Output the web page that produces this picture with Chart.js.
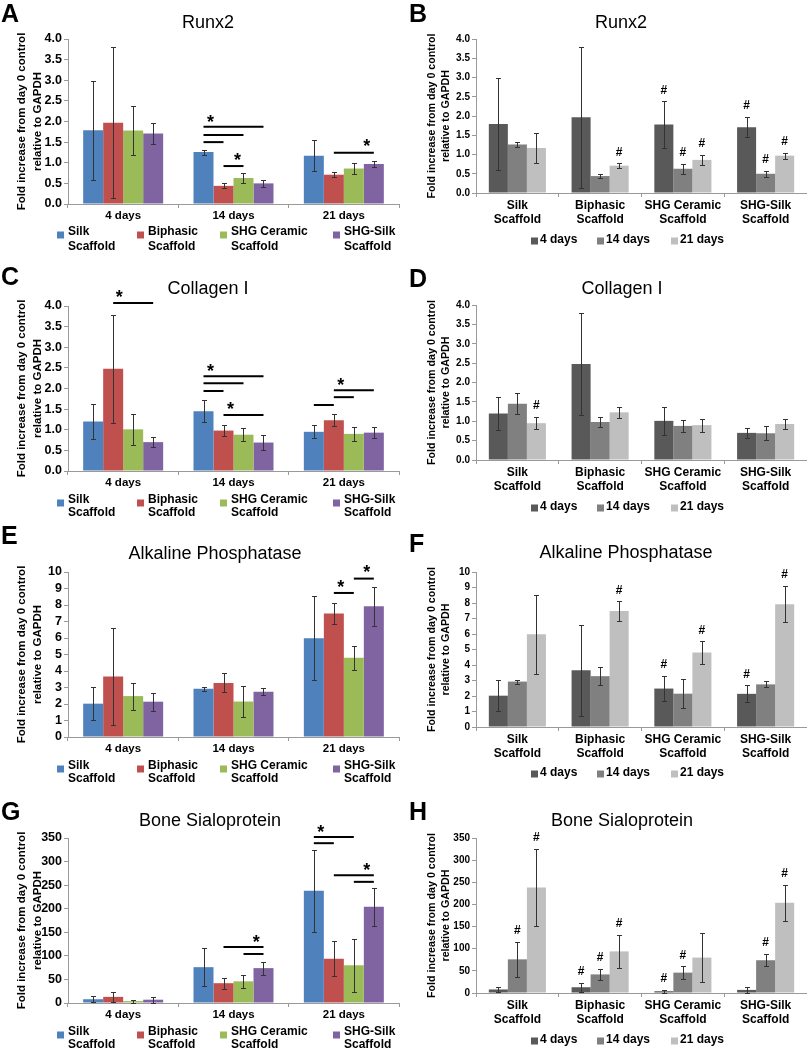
<!DOCTYPE html>
<html>
<head>
<meta charset="utf-8">
<script src="https://cdn.jsdelivr.net/npm/chart.js@4.4.0/dist/chart.umd.min.js"></script>
<style>
  body { margin: 0; background: #fff; width: 807px; height: 1050px; position: relative; overflow: hidden; }
  canvas { position: absolute; }
</style>
</head>
<body>
<canvas id="A" width="404" height="260" style="left:0;top:0"></canvas>
<canvas id="B" width="403" height="260" style="left:404px;top:0"></canvas>
<canvas id="C" width="404" height="260" style="left:0;top:260px"></canvas>
<canvas id="D" width="403" height="260" style="left:404px;top:260px"></canvas>
<canvas id="E" width="404" height="265" style="left:0;top:520px"></canvas>
<canvas id="F" width="403" height="265" style="left:404px;top:520px"></canvas>
<canvas id="G" width="404" height="265" style="left:0;top:785px"></canvas>
<canvas id="H" width="403" height="265" style="left:404px;top:785px"></canvas>
<script>
const days = ['4 days', '14 days', '21 days'];
const scaffolds = [['Silk', 'Scaffold'], ['Biphasic', 'Scaffold'], ['SHG Ceramic', 'Scaffold'], ['SHG-Silk', 'Scaffold']];
const yTitle = ['Fold increase from day 0 control', 'relative to GAPDH'];

// rows: scaffold, columns: 4 / 14 / 21 days
const runx2Mean = [[1.79, 1.26, 1.17], [1.97, 0.44, 0.71], [1.78, 0.63, 0.86], [1.71, 0.50, 0.97]];
const runx2Err = [[1.20, 0.06, 0.38], [1.83, 0.06, 0.06], [0.60, 0.13, 0.14], [0.26, 0.08, 0.08]];
const col1Mean = [[1.20, 1.45, 0.95], [2.48, 0.98, 1.23], [1.01, 0.88, 0.90], [0.70, 0.69, 0.93]];
const col1Err = [[0.43, 0.27, 0.16], [1.31, 0.14, 0.15], [0.37, 0.16, 0.17], [0.12, 0.18, 0.13]];
const alpMean = [[2.02, 2.93, 5.98], [3.66, 3.28, 7.48], [2.48, 2.15, 4.80], [2.14, 2.75, 7.92]];
const alpErr = [[1.00, 0.13, 2.55], [2.95, 0.58, 0.62], [0.82, 0.92, 0.72], [0.54, 0.19, 1.17]];
const bspMean = [[8, 76, 238], [13, 42, 94], [4, 46, 80], [7, 74, 204]];
const bspErr = [[6, 40, 87], [10, 12, 37], [3, 14, 56], [6, 14, 41]];

// significance bars: [day, fromScaffold, toScaffold, value]; stars: [day, scaffold position, value]
const runx2Sig = [[1, 0, 3, 1.87], [1, 0, 2, 1.67], [1, 0, 1, 1.50], [1, 1, 2, 0.92], [2, 1, 3, 1.24]];
const runx2Stars = [[1, 0.35, 2.08], [1, 1.7, 1.14], [2, 2.65, 1.48]];
const col1Sig = [[0, 1, 3, 4.07], [1, 0, 3, 2.30], [1, 0, 2, 2.13], [1, 0, 1, 1.94], [1, 1, 3, 1.36], [2, 0, 1, 1.60], [2, 1, 2, 1.79], [2, 1, 3, 1.96]];
const col1Stars = [[0, 1.3, 4.3], [1, 0.35, 2.52], [1, 1.35, 1.58], [2, 1.35, 2.18]];
const alpSig = [[2, 1, 2, 8.73], [2, 2, 3, 9.6]];
const alpStars = [[2, 1.35, 9.3], [2, 2.65, 10.2]];
const bspSig = [[1, 1, 3, 119], [1, 2, 3, 104], [2, 0, 2, 352], [2, 0, 1, 339], [2, 1, 3, 271], [2, 2, 3, 257]];
const bspStars = [[1, 2.64, 137], [2, 0.35, 371], [2, 2.65, 289]];

// '#' marks: [scaffold, day]
const runx2Hash = [[1, 2], [2, 0], [2, 1], [2, 2], [3, 0], [3, 1], [3, 2]];
const col1Hash = [[0, 2]];
const alpHash = [[1, 2], [2, 0], [2, 2], [3, 0], [3, 2]];
const bspHash = [[0, 1], [0, 2], [1, 0], [1, 1], [1, 2], [2, 0], [2, 1], [3, 1], [3, 2]];

const scaffoldColors = ['#4f81bd', '#c0504d', '#9bbb59', '#8064a2'];
const dayColors = ['#595959', '#808080', '#bfbfbf'];
const FONT = '"Liberation Sans", Arial, sans-serif';
const axisColor = '#9a9a9a';

const decor = {
  id: 'decor',
  afterDraw(chart) {
    const o = chart.options.plugins.decor;
    const ctx = chart.ctx;
    ctx.save();
    ctx.fillStyle = '#000';
    ctx.textAlign = 'left';
    ctx.textBaseline = 'alphabetic';
    ctx.font = 'bold 25px ' + FONT;
    ctx.fillText(o.letter, o.letterX, o.letterY);
    ctx.font = '18px ' + FONT;
    ctx.textAlign = 'center';
    ctx.textBaseline = 'middle';
    ctx.fillText(o.title, o.titleX, o.titleY);
    ctx.font = 'bold 12px ' + FONT;
    ctx.textAlign = 'left';
    chart.data.datasets.forEach((ds, k) => {
      const x = o.legendX[k];
      const lines = [].concat(ds.label);
      ctx.fillStyle = ds.backgroundColor;
      ctx.fillRect(x, o.legendY[0] + o.boxDy - 3.5, 7, 7);
      ctx.fillStyle = '#000';
      lines.forEach((t, i) => ctx.fillText(t, x + o.textDx, o.legendY[i]));
    });
    ctx.restore();
  }
};

const marks = {
  id: 'marks',
  afterDatasetsDraw(chart) {
    const o = chart.options.plugins.marks;
    const ctx = chart.ctx;
    const y = chart.scales.y;
    const n = chart.data.datasets.length;
    const barX = (k, d) => chart.getDatasetMeta(k).data[d].x;
    const posX = (p, d) => {
      const k = Math.min(Math.floor(p), n - 2);
      return barX(k, d) + (p - k) * (barX(k + 1, d) - barX(k, d));
    };
    ctx.save();
    ctx.strokeStyle = '#333';
    ctx.lineWidth = 1;
    chart.data.datasets.forEach((ds, k) => {
      chart.getDatasetMeta(k).data.forEach((bar, d) => {
        const hi = Math.round(y.getPixelForValue(ds.data[d] + ds.errors[d])) + 0.5;
        const lo = Math.round(y.getPixelForValue(Math.max(ds.data[d] - ds.errors[d], 0))) + 0.5;
        const x = Math.round(bar.x) + 0.5;
        ctx.beginPath();
        ctx.moveTo(x, hi); ctx.lineTo(x, lo);
        ctx.moveTo(x - 2.5, hi); ctx.lineTo(x + 2.5, hi);
        ctx.moveTo(x - 2.5, lo); ctx.lineTo(x + 2.5, lo);
        ctx.stroke();
      });
    });
    ctx.strokeStyle = '#000';
    ctx.lineWidth = 2;
    (o.lines || []).forEach(([d, a, b, v]) => {
      const py = y.getPixelForValue(v);
      ctx.beginPath();
      ctx.moveTo(barX(a, d), py);
      ctx.lineTo(barX(b, d), py);
      ctx.stroke();
    });
    ctx.fillStyle = '#000';
    ctx.textAlign = 'center';
    ctx.textBaseline = 'middle';
    ctx.font = 'bold 18px ' + FONT;
    (o.stars || []).forEach(([d, p, v]) => ctx.fillText('*', posX(p, d), y.getPixelForValue(v) + 4.5));
    ctx.font = 'bold 12px ' + FONT;
    (o.hashes || []).forEach(([s, d]) => {
      const ds = chart.data.datasets[d];
      const top = y.getPixelForValue(ds.data[s] + ds.errors[s]);
      ctx.fillText('#', barX(d, s), top - 11);
    });
    ctx.restore();
  }
};

function makeChart(id, labels, datasets, yMax, step, dec, L, cp, decorOpts, markOpts) {
  new Chart(document.getElementById(id), {
    type: 'bar',
    data: { labels: labels, datasets: datasets },
    plugins: [marks, decor],
    options: {
      responsive: false,
      animation: false,
      devicePixelRatio: 1,
      layout: { padding: { top: L.top, right: L.right, left: 0, bottom: 0 } },
      datasets: { bar: { categoryPercentage: cp, barPercentage: 1 } },
      plugins: {
        legend: { display: false },
        tooltip: { enabled: false },
        title: { display: false },
        decor: decorOpts,
        marks: markOpts
      },
      scales: {
        x: {
          grid: { drawOnChartArea: false, drawTicks: true, tickLength: 4, color: axisColor },
          border: { display: true, color: axisColor },
          ticks: { color: '#000', font: { family: FONT, size: L.catFont, weight: 'bold', lineHeight: 1.2 }, padding: 1, maxRotation: 0, autoSkip: false },
          afterFit: s => { s.height = L.h - L.bottom; }
        },
        y: {
          min: 0,
          max: yMax,
          ticks: { stepSize: step, autoSkip: false, callback: v => v.toFixed(dec), color: '#000', font: { family: FONT, size: L.tickFont, weight: 'bold' }, padding: 2 },
          grid: { drawOnChartArea: false, tickLength: 4, color: axisColor },
          border: { color: axisColor },
          title: { display: true, text: yTitle, color: '#000', font: { family: FONT, size: L.titleFont, weight: 'bold', lineHeight: L.titleLH }, padding: { top: L.titlePad, bottom: 0 } },
          afterFit: s => { s.width = L.left; }
        }
      }
    }
  });
}

const leftAxes = { left: 68, right: 5, titlePad: 14, titleFont: 11.5, titleLH: 1.39, tickFont: 12.5, catFont: 11.5 };
const rightAxes = { left: 72, right: 0, titlePad: 20.5, titleFont: 10.7, titleLH: 1.36, tickFont: 10, catFont: 12 };

function byScaffold(id, mean, err, yMax, step, dec, sig, stars, L, d) {
  const datasets = scaffolds.map((s, k) => ({ label: s, data: mean[k], errors: err[k], backgroundColor: scaffoldColors[k] }));
  makeChart(id, days, datasets, yMax, step, dec, Object.assign({}, leftAxes, L), 0.725,
    Object.assign({ legendX: [57, 137, 220, 333], textDx: 11, boxDy: 3, letterX: 1 }, d),
    { lines: sig, stars: stars });
}

function byDay(id, mean, err, yMax, step, dec, hashes, L, d) {
  const datasets = days.map((t, j) => ({ label: t, data: mean.map(r => r[j]), errors: err.map(r => r[j]), backgroundColor: dayColors[j] }));
  makeChart(id, scaffolds, datasets, yMax, step, dec, Object.assign({}, rightAxes, L), 0.69,
    Object.assign({ legendX: [127, 193, 267], textDx: 9, boxDy: 1, letterX: 5 }, d),
    { hashes: hashes });
}

byScaffold('A', runx2Mean, runx2Err, 4, 0.5, 1, runx2Sig, runx2Stars,
  { top: 39, h: 260, bottom: 204 },
  { letter: 'A', letterY: 22, title: 'Runx2', titleX: 208, titleY: 23, legendY: [232, 247] });
byDay('B', runx2Mean, runx2Err, 4, 0.5, 1, runx2Hash,
  { top: 39, h: 260, bottom: 193 },
  { letter: 'B', letterY: 22, title: 'Runx2', titleX: 217, titleY: 23, legendY: [240] });
byScaffold('C', col1Mean, col1Err, 4, 0.5, 1, col1Sig, col1Stars,
  { top: 46, h: 260, bottom: 211 },
  { letter: 'C', letterY: 25, title: 'Collagen I', titleX: 208, titleY: 29, legendY: [240, 253] });
byDay('D', col1Mean, col1Err, 4, 0.5, 1, col1Hash,
  { top: 45, h: 260, bottom: 200 },
  { letter: 'D', letterY: 27, title: 'Collagen I', titleX: 218, titleY: 29, legendY: [247] });
byScaffold('E', alpMean, alpErr, 10, 1, 0, alpSig, alpStars,
  { top: 52, h: 265, bottom: 217 },
  { letter: 'E', letterY: 24, title: 'Alkaline Phosphatase', titleX: 215, titleY: 34, legendY: [246, 259] });
byDay('F', alpMean, alpErr, 10, 1, 0, alpHash,
  { top: 52, h: 265, bottom: 207 },
  { letter: 'F', letterY: 32, title: 'Alkaline Phosphatase', titleX: 222, titleY: 33, legendY: [253] });
byScaffold('G', bspMean, bspErr, 350, 50, 0, bspSig, bspStars,
  { top: 53, h: 265, bottom: 218 },
  { letter: 'G', letterY: 35, title: 'Bone Sialoprotein', titleX: 210, titleY: 36, legendY: [247, 260] });
byDay('H', bspMean, bspErr, 350, 50, 0, bspHash,
  { top: 53, h: 265, bottom: 208 },
  { letter: 'H', letterY: 35, title: 'Bone Sialoprotein', titleX: 218, titleY: 36, legendY: [255] });
</script>
</body>
</html>
